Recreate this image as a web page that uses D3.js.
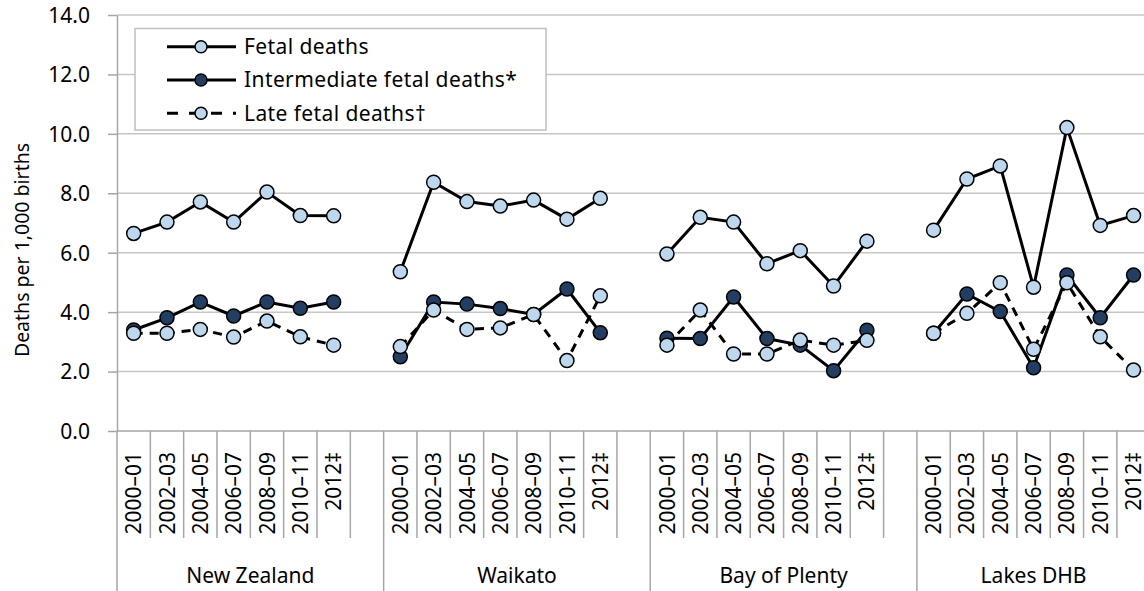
<!DOCTYPE html>
<html>
<head>
<meta charset="utf-8">
<script src="https://cdn.jsdelivr.net/npm/d3@7"></script>
<style>
  html, body { margin: 0; padding: 0; background: #fff; }
  svg { display: block; font-family: "Noto Sans", "Open Sans", sans-serif; }
</style>
</head>
<body>
<svg id="chart" width="1144" height="591"></svg>
<script>
const categories = ["2000–01", "2002–03", "2004–05", "2006–07", "2008–09", "2010–11", "2012‡"];
const groups = ["New Zealand", "Waikato", "Bay of Plenty", "Lakes DHB"];
const seriesNames = ["Fetal deaths", "Intermediate fetal deaths*", "Late fetal deaths†"];
const fetal = [
  [6.65, 7.03, 7.71, 7.03, 8.04, 7.25, 7.24],
  [5.36, 8.37, 7.72, 7.57, 7.77, 7.13, 7.83],
  [5.96, 7.19, 7.03, 5.63, 6.07, 4.88, 6.39],
  [6.76, 8.48, 8.92, 4.84, 10.21, 6.92, 7.25]
];
const intermediate = [
  [3.40, 3.81, 4.34, 3.87, 4.34, 4.13, 4.34],
  [2.50, 4.34, 4.27, 4.12, 3.92, 4.78, 3.31],
  [3.12, 3.11, 4.51, 3.11, 2.89, 2.03, 3.39],
  [3.29, 4.61, 4.02, 2.13, 5.25, 3.81, 5.25]
];
const late = [
  [3.29, 3.29, 3.42, 3.16, 3.70, 3.17, 2.89],
  [2.84, 4.07, 3.42, 3.47, 3.92, 2.37, 4.55],
  [2.89, 4.07, 2.59, 2.59, 3.06, 2.89, 3.05],
  [3.29, 3.96, 4.99, 2.75, 4.99, 3.17, 2.05]
];
const yTicks = [0, 2, 4, 6, 8, 10, 12, 14];

(function () {
const svg = d3.select("#chart");
const plotLeft = 117, plotTop = 15, plotBottom = 431, slotW = 33.33;
const FONT = 21;

// band domain: per group 7 categories + a blank slot (except last group)
const slots = [];
groups.forEach((g, gi) => {
  categories.forEach((c, ci) => slots.push(gi + "|" + ci));
  if (gi < groups.length - 1) slots.push(gi + "|blank");
});
const x = d3.scaleBand().domain(slots).range([plotLeft, plotLeft + slots.length * slotW]).padding(0);
const y = d3.scaleLinear().domain([0, 14]).range([plotBottom, plotTop]);
const plotRight = x.range()[1];

// gridlines
svg.append("g").selectAll("line").data(yTicks.filter(d => d > 0)).join("line")
  .attr("x1", plotLeft).attr("x2", plotRight)
  .attr("y1", d => y(d)).attr("y2", d => y(d))
  .attr("stroke", "#C6C6C6").attr("stroke-width", 1.5);

// y axis
const yAxis = svg.append("g").attr("transform", `translate(${plotLeft},0)`)
  .call(d3.axisLeft(y).tickValues(yTicks).tickFormat(d3.format(".1f")).tickSize(9).tickSizeOuter(0));
yAxis.select(".domain").attr("stroke", "#A6A6A6").attr("stroke-width", 1.5);
yAxis.selectAll(".tick line").attr("stroke", "#A6A6A6").attr("stroke-width", 1.5);
yAxis.selectAll(".tick text").attr("font-size", FONT).attr("fill", "#000")
  .attr("font-family", "Noto Sans").attr("x", -27).attr("dy", "0.35em");

// x axis line
svg.append("line").attr("x1", plotLeft).attr("x2", plotRight).attr("y1", plotBottom).attr("y2", plotBottom)
  .attr("stroke", "#A6A6A6").attr("stroke-width", 1.5);

// x tick boundaries
const bounds = d3.range(slots.length + 1);
svg.append("g").selectAll("line").data(bounds).join("line")
  .attr("x1", i => plotLeft + i * x.step()).attr("x2", i => plotLeft + i * x.step())
  .attr("y1", plotBottom)
  .attr("y2", i => (i % 8 === 0) ? 591 : 538)
  .attr("stroke", "#A6A6A6").attr("stroke-width", 1.5);

// category labels
const catData = [];
groups.forEach((g, gi) => categories.forEach((c, ci) => catData.push({ key: gi + "|" + ci, label: c })));
svg.append("g").selectAll("text").data(catData).join("text")
  .attr("transform", d => `translate(${x(d.key) + x.bandwidth() / 2},452) rotate(-90)`)
  .attr("text-anchor", "end").attr("dy", "0.36em")
  .attr("font-size", FONT).attr("fill", "#000")
  .text(d => d.label);

// group labels
svg.append("g").selectAll("text").data(groups).join("text")
  .attr("x", (g, gi) => {
    const first = x(gi + "|0");
    const lastKey = gi < groups.length - 1 ? gi + "|blank" : gi + "|6";
    return (first + x(lastKey) + x.bandwidth()) / 2;
  })
  .attr("y", 583).attr("text-anchor", "middle")
  .attr("font-size", FONT).attr("fill", "#000")
  .text(d => d);

// y axis title
svg.append("text")
  .attr("transform", "translate(22,250) rotate(-90)")
  .attr("text-anchor", "middle").attr("dy", "0.35em")
  .attr("font-size", 19.5).attr("fill", "#000")
  .text("Deaths per 1,000 births");

// series
const series = [
  { name: seriesNames[0], data: fetal, fill: "#BDD7EE", dash: null },
  { name: seriesNames[1], data: intermediate, fill: "#223F63", dash: null },
  { name: seriesNames[2], data: late, fill: "#BDD7EE", dash: "9,7" }
];
const line = d3.line().x(d => x(d.key) + x.bandwidth() / 2).y(d => y(d.v));
series.forEach(s => {
  const g = svg.append("g");
  s.data.forEach((vals, gi) => {
    const pts = vals.map((v, ci) => ({ key: gi + "|" + ci, v }));
    g.append("path").datum(pts).attr("d", line)
      .attr("fill", "none").attr("stroke", "#000").attr("stroke-width", 3)
      .attr("stroke-dasharray", s.dash);
    g.selectAll(null).data(pts).join("circle")
      .attr("cx", d => x(d.key) + x.bandwidth() / 2).attr("cy", d => y(d.v))
      .attr("r", 7).attr("fill", s.fill).attr("stroke", "#000").attr("stroke-width", 1.5);
  });
});

// legend
const lg = svg.append("g");
lg.append("rect").attr("x", 135).attr("y", 28.5).attr("width", 411).attr("height", 101.5)
  .attr("fill", "#fff").attr("stroke", "#BFBFBF").attr("stroke-width", 1.5);
const rowY = [46.7, 80, 113.3];
series.forEach((s, i) => {
  lg.append("line").attr("x1", 167).attr("x2", 236).attr("y1", rowY[i]).attr("y2", rowY[i])
    .attr("stroke", "#000").attr("stroke-width", 3).attr("stroke-dasharray", s.dash ? "11,11" : null);
  lg.append("circle").attr("cx", 201).attr("cy", rowY[i]).attr("r", 6)
    .attr("fill", s.fill).attr("stroke", "#000").attr("stroke-width", 1.5);
  lg.append("text").attr("x", 244).attr("y", rowY[i]).attr("dy", "0.35em")
    .attr("font-size", FONT).attr("fill", "#000").attr("letter-spacing", 0.4)
    .text(s.name);
});
})();
</script>
</body>
</html>
